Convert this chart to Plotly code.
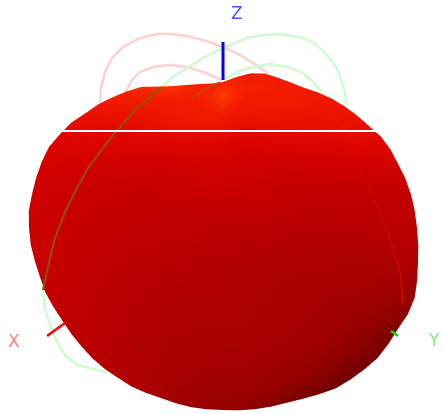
## Imports
import numpy as np
import plotly.graph_objects as go

## Data setup (all values in view plane units: right, up from the axes crossing)

# Outline of the pattern, one radius per screen angle (0, 5, ... 355 deg)
outline_angle = list(range(0, 360, 5))
outline_radius = [194, 192.5, 191, 189, 186.5, 185, 182.5, 178, 175, 172, 169, 165.5,
                  162, 160.5, 160, 160, 157, 151.5, 146, 145, 146, 148, 151, 156,
                  163, 167, 171, 175.5, 179, 184.5, 188, 192, 193, 193.5, 194, 195,
                  194, 193, 191, 189.5, 189, 187, 185.5, 185, 184.5, 184.5, 184, 183,
                  183, 182, 181, 181.5, 182, 182, 182, 183, 184, 185, 186, 188.5,
                  192, 196, 198, 200, 202, 202, 202, 204, 204, 201, 198, 196]

# Share of the outline radius for each ring, centre to edge
ring_share = [0, 0.25, 0.5, 0.75, 0.9, 1.0]

# Colour level per ring and angle
level_centre = [58] * 72
level_ring1 = [57, 58, 59, 60, 61, 62, 63, 64, 65, 65, 66, 66,
               67, 67, 68, 68, 68, 68, 68, 68, 68, 68, 68, 68,
               67, 67, 66, 65, 65, 64, 63, 62, 62, 61, 61, 60,
               60, 59, 59, 58, 58, 57, 56, 55, 55, 55, 54, 53,
               53, 52, 52, 52, 52, 52, 52, 51, 51, 50, 50, 50,
               50, 50, 50, 50, 50, 51, 51, 52, 53, 54, 55, 56]
level_ring2 = [56, 57, 58, 60, 62, 64, 66, 67, 69, 70, 71, 72,
               73, 73, 74, 74, 75, 75, 75, 75, 75, 75, 75, 75,
               74, 73, 72, 71, 70, 69, 68, 66, 65, 64, 63, 62,
               62, 61, 60, 59, 58, 57, 56, 55, 54, 53, 52, 51,
               50, 50, 49, 49, 49, 49, 49, 49, 49, 49, 48, 48,
               48, 48, 47, 47, 47, 47, 47, 48, 49, 50, 51, 53]
level_ring3 = [57, 58, 60, 63, 66, 70, 73, 76, 78, 80, 82, 84,
               85, 86, 87, 88, 88, 88, 88, 88, 88, 88, 88, 87,
               86, 84, 82, 80, 78, 76, 74, 72, 70, 68, 67, 66,
               65, 64, 63, 62, 61, 59, 58, 56, 55, 54, 52, 51,
               50, 48, 47, 46, 45, 45, 44, 44, 44, 43, 43, 42,
               42, 41, 41, 41, 41, 41, 42, 44, 46, 48, 51, 54]
level_ring4 = [58, 60, 62, 66, 70, 75, 80, 83, 85, 86, 87, 88,
               89, 90, 90, 91, 91, 94, 100, 94, 91, 90, 90, 89,
               89, 88, 86, 85, 83, 81, 78, 75, 73, 71, 70, 69,
               68, 67, 66, 65, 64, 62, 60, 58, 57, 55, 54, 52,
               50, 48, 46, 44, 42, 40, 39, 38, 37, 35, 33, 31,
               30, 28, 26, 26, 27, 29, 32, 36, 41, 45, 50, 54]
level_edge = [58, 60, 63, 67, 72, 76, 80, 83, 85, 87, 88, 88,
              89, 89, 90, 90, 90, 90, 92, 90, 90, 94, 97, 97,
              94, 92, 90, 88, 85, 82, 80, 77, 75, 73, 72, 71,
              70, 69, 68, 66, 65, 63, 62, 60, 58, 56, 55, 52,
              50, 48, 45, 42, 39, 36, 33, 30, 27, 24, 20, 17,
              14, 12, 10, 11, 13, 16, 20, 27, 34, 41, 50, 55]

# Cut curves
pink_outer_right = [-123, -122, -118, -111, -100, -83, -66, -53, -36, -20, 0, 17, 30, 44]
pink_outer_up = [126, 140, 156, 170, 181, 190, 194, 194, 192, 188, 181, 173, 165, 155]
pink_inner_right = [-98, -91, -83, -70, -53, -36, -20, -1]
pink_inner_up = [135, 148, 156, 161, 163, 161, 156, 148]
green_inner_right = [0, 14, 30, 47, 64, 80, 90, 99]
green_inner_up = [148, 156, 161, 164, 161, 155, 146, 136]
green_outer_right = [123, 122, 114, 104, 90, 77, 57, 40, 24, 0, -20, -36, -50, -61]
green_outer_up = [123, 136, 160, 173, 186, 191, 194, 193, 190, 180, 170, 160, 151, 141]
green_low_right = [-180, -178, -170, -160, -146, -126, -116]
green_low_up = [-62, -82, -105, -125, -137, -142, -144]
olive_right = [-61, -86, -110, -123, -135, -146, -158, -168, -173, -178, -180]
olive_up = [141, 120, 93, 76, 60, 40, 16, -10, -30, -52, -62]
olive_short_right = [-31, -16, -3]
olive_short_up = [131, 140, 146]
streak_right = [117, 127, 147, 167, 177, 180]
streak_up = [85, 73, 40, -10, -44, -77]

# Axis stubs and labels
z_axis_right, z_axis_up = [0, 0], [148, 186]
x_axis_right, x_axis_up = [-176, -158], [-108, -95]
y_axis_right, y_axis_up = [168, 175], [-103, -108]
label_text = ["X", "Y", "Z"]
label_right = [-209, 211, 14]
label_up = [-113, -112, 215]
label_color = ["rgb(255,130,130)", "rgb(130,235,130)", "rgb(80,80,255)"]

# White seam across the pattern
seam_right, seam_up = [-166, 155], [97, 97]

## Surface from the tables
levels = np.array([level_centre, level_ring1, level_ring2, level_ring3, level_ring4, level_edge])
levels = np.hstack([levels, levels[:, :1]])
angle = np.radians(outline_angle + [360])
radius = np.array(outline_radius + outline_radius[:1])
share = np.array(ring_share)[:, None]

surf_x = share * radius * np.cos(angle)
surf_y = share * radius * np.sin(angle)
surf_z = np.sqrt(1 - share ** 2) * radius

scale = [[0, "rgb(95,0,0)"], [0.3, "rgb(145,0,0)"], [0.5, "rgb(175,0,0)"], [0.7, "rgb(205,0,0)"],
         [0.8, "rgb(225,5,0)"], [0.9, "rgb(243,28,0)"], [1, "rgb(255,60,0)"]]

fig = go.Figure()
fig.add_trace(go.Surface(x=surf_x, y=surf_y, z=surf_z, surfacecolor=levels, cmin=0, cmax=100,
                         colorscale=scale, showscale=False, hoverinfo="skip",
                         lighting=dict(ambient=1, diffuse=0, specular=0, roughness=1, fresnel=0)))


# Depth only decides what the dome hides
def add_line(right, up, depth, color, width):
    fig.add_trace(go.Scatter3d(x=right, y=up, z=[depth] * len(right), mode="lines",
                               line=dict(color=color, width=width), hoverinfo="skip"))


add_line(pink_outer_right, pink_outer_up, -10, "rgb(255,208,208)", 5)
add_line(pink_inner_right, pink_inner_up, -10, "rgb(255,208,208)", 5)
add_line(green_inner_right, green_inner_up, -10, "rgb(208,250,208)", 5)
add_line(green_outer_right, green_outer_up, -10, "rgb(208,250,208)", 5)
add_line(green_low_right, green_low_up, -10, "rgb(208,250,208)", 5)
add_line(olive_right, olive_up, 280, "rgb(150,80,10)", 4)
add_line(olive_short_right, olive_short_up, 280, "rgb(190,80,0)", 3)
add_line(streak_right, streak_up, 270, "rgb(208,6,0)", 3)
add_line(seam_right, seam_up, 290, "white", 4)
add_line(z_axis_right, z_axis_up, 290, "rgb(0,0,255)", 6)
add_line(x_axis_right, x_axis_up, 290, "rgb(255,0,0)", 5)
add_line(y_axis_right, y_axis_up, 290, "rgb(0,225,0)", 5)

hidden = dict(visible=False)
zoom = 2.14  # orthographic view scales with the aspect ratio, not the eye
fig.update_layout(
    width=443, height=414, margin=dict(l=0, r=0, t=0, b=0), paper_bgcolor="white", showlegend=False,
    scene=dict(
        domain=dict(x=[0, 1], y=[0, 1]),
        xaxis=dict(range=[-223, 220], **hidden),
        yaxis=dict(range=[-186, 228], **hidden),
        zaxis=dict(range=[-300, 300], **hidden),
        aspectmode="manual", aspectratio=dict(x=zoom, y=zoom * 414 / 443, z=1),
        camera=dict(projection=dict(type="orthographic"), eye=dict(x=0, y=0, z=2),
                    up=dict(x=0, y=1, z=0), center=dict(x=0, y=0, z=0)),
        annotations=[dict(x=r, y=u, z=290, text=t, showarrow=False,
                          font=dict(family="DejaVu Sans", size=17, color=c))
                     for r, u, t, c in zip(label_right, label_up, label_text, label_color)],
    ),
)
# The page keeps a default body margin otherwise
fig.write_html("out.html", post_script="document.body.style.margin='0';",
               config=dict(displayModeBar=False))
